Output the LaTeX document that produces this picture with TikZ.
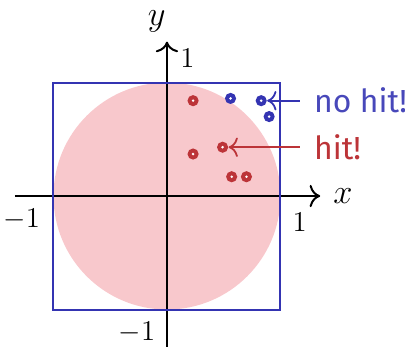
\documentclass[tikz,border=0pt]{standalone}
\usepackage{fontspec}
\newfontfamily\labelfont{Fira Sans}
\usetikzlibrary{positioning,arrows.meta}
\definecolor{hitred}{RGB}{188,52,56}
\definecolor{missblue}{RGB}{52,52,178}
\definecolor{diskpink}{RGB}{248,200,204}

\begin{document}
\begin{tikzpicture}[x=2cm,y=2cm,
axis/.style={-{To[scale=1.4]},line width=1pt},
shot/.style={circle,inner sep=0pt,minimum size=5.6pt,
  path picture={\fill[white] (path picture bounding box.center) circle (0.7pt);}},
hit/.style={shot,fill=hitred},
miss/.style={shot,fill=missblue},
tag/.style={anchor=west,inner xsep=7pt,font=\labelfont\fontsize{16}{19}\selectfont},
pointer/.style={-{To[scale=1.3]},line width=0.9pt}]
\useasboundingbox (-1.471,-1.330) rectangle (2.097,1.727);
% disk and square
\fill[diskpink] (0,0) circle (1);
\draw[axis] (-1.34,0) -- (1.35,0);
\draw[axis] (0,-1.34) -- (0,1.36);
\draw[missblue,line width=1pt] (-1,-1) rectangle (1,1);
\node[font=\LARGE] (xl) at (1.55,0) {$x$};
\node[font=\LARGE,inner sep=1pt] (yl) at (-0.09,1.54) {$y$};
\node[font=\Large] (yone) at (0.18,1.21) {$1$};
\node[font=\Large] (xone) at (1.17,-0.23) {$1$};
\node[font=\Large] (xmone) at (-1.28,-0.21) {$-1$};
\node[font=\Large] (ymone) at (-0.264,-1.20) {$-1$};
% samples
\node[hit] (h1) at (0.23,0.84) {};
\node[hit] (h2) at (0.23,0.37) {};
\node[hit] (h3) at (0.49,0.43) {};
\node[hit] (h4) at (0.57,0.17) {};
\node[hit] (h5) at (0.70,0.17) {};
\node[miss] (m1) at (0.56,0.86) {};
\node[miss] (m2) at (0.83,0.84) {};
\node[miss] (m3) at (0.90,0.70) {};
% labels
\node[tag,text=missblue!90] (nohit) at (1.17,0.84) {no hit!};
\node[tag,text=hitred] (yeshit) at (1.17,0.43) {hit!};
\draw[pointer,missblue] (nohit.west) -- (m2);
\draw[pointer,hitred] (yeshit.west) -- (h3);
\end{tikzpicture}
\end{document}
